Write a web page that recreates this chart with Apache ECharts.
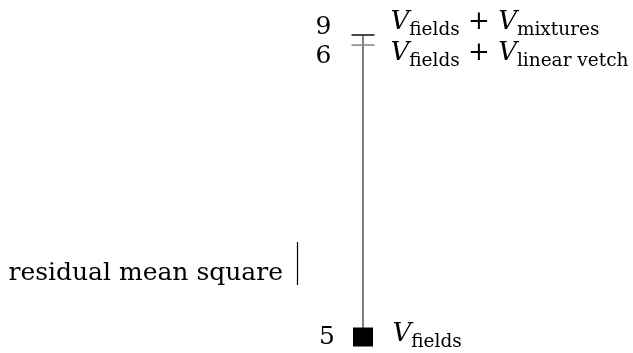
<!DOCTYPE html>
<html>
<head>
<meta charset="utf-8">
<script src="https://cdn.jsdelivr.net/npm/echarts@6/dist/echarts.min.js"></script>
<style>
  html, body { margin: 0; padding: 0; background: #fff; }
  #chart { width: 633px; height: 353px; }
</style>
</head>
<body>
<div id="chart"></div>
<script>
// Models compared on a residual-mean-square scale (arbitrary units, top = larger)
const modelIds = ['9', '6', '5'];
const modelTerms = [
  ['fields', 'mixtures'],
  ['fields', 'linear vetch'],
  ['fields']
];
const rmsScale = [30, 29, 0];
const axisLabel = 'residual mean square';

const FONT = 'DejaVu Serif';
const SIZE = 25;
const TERM = 26;
const SUB = 18.5;

function termLabel(terms) {
  return terms.map(t => '{v|V}{s|' + t + '}').join('{p| + }');
}

const rich = {
  v: { fontFamily: FONT, fontSize: TERM, fontStyle: 'italic', color: '#000', lineHeight: 28, verticalAlign: 'top' },
  p: { fontFamily: FONT, fontSize: TERM, color: '#000', lineHeight: 28, verticalAlign: 'top' },
  s: { fontFamily: FONT, fontSize: SUB, color: '#000', lineHeight: 20, verticalAlign: 'top', padding: [12, 0, 0, 0] }
};

// vertical offsets of the left/right labels relative to each mark
const leftOffsetY = [-8, 11, 0];
const rightOffsetY = [-12, 9, -2];

const lo = Math.min(...rmsScale), hi = Math.max(...rmsScale);

const tickData = [], boxData = [];
modelIds.forEach((id, i) => {
  const item = { value: [0, rmsScale[i]], name: id, terms: modelTerms[i], idx: i };
  if (modelTerms[i].length > 1) {
    item.itemStyle = { color: i === 0 ? '#1a1a1a' : '#8a8a8a', opacity: 1 };
    tickData.push(item);
  } else {
    boxData.push(item);
  }
});

const textLabel = {
  fontFamily: FONT, fontSize: SIZE, color: '#000'
};

const chart = echarts.init(document.getElementById('chart'));
const option = {
  animation: false,
  grid: { left: 93, right: 0, top: 35, bottom: 16, containLabel: false },
  xAxis: { type: 'value', min: -1, max: 1, show: false },
  yAxis: { type: 'value', min: lo, max: hi, show: false },
  graphic: [
    {
      type: 'text',
      x: 283,
      y: 273,
      style: { text: axisLabel, font: SIZE + 'px "' + FONT + '"', fill: '#000', align: 'right', verticalAlign: 'middle' }
    },
    {
      type: 'line',
      shape: { x1: 297.5, y1: 242, x2: 297.5, y2: 285 },
      style: { stroke: '#000', lineWidth: 1.2 }
    }
  ],
  series: [
    {
      type: 'line',
      data: [[0, lo], [0, hi]],
      symbol: 'none',
      lineStyle: { color: '#808080', width: 2 },
      silent: true,
      z: 1
    },
    {
      type: 'scatter',
      data: tickData,
      symbol: 'rect',
      symbolSize: [23, 1.6],
      itemStyle: { opacity: 1 },
      z: 2,
      label: Object.assign({
        show: true,
        position: 'left',
        distance: 20,
        formatter: p => p.name
      }, textLabel),
      labelLayout: p => ({ dy: leftOffsetY[tickData[p.dataIndex].idx] })
    },
    {
      type: 'scatter',
      data: tickData.map(d => Object.assign({}, d, { itemStyle: { color: 'rgba(0,0,0,0)' } })),
      symbol: 'rect',
      symbolSize: 1,
      z: 2,
      label: {
        show: true,
        position: 'right',
        distance: 27,
        color: '#000',
        opacity: 1,
        formatter: p => termLabel(p.data.terms),
        rich: rich
      },
      labelLayout: p => ({ dy: rightOffsetY[tickData[p.dataIndex].idx] })
    },
    {
      type: 'scatter',
      data: boxData,
      symbol: 'rect',
      symbolSize: [20, 19],
      itemStyle: { color: '#000', opacity: 1 },
      z: 3,
      label: Object.assign({
        show: true,
        position: 'left',
        distance: 18,
        formatter: p => p.name
      }, textLabel)
    },
    {
      type: 'scatter',
      data: boxData.map(d => Object.assign({}, d, { itemStyle: { color: 'rgba(0,0,0,0)' } })),
      symbol: 'rect',
      symbolSize: 1,
      z: 3,
      label: {
        show: true,
        position: 'right',
        distance: 29,
        color: '#000',
        opacity: 1,
        formatter: p => termLabel(p.data.terms),
        rich: rich
      },
      labelLayout: p => ({ dy: rightOffsetY[boxData[p.dataIndex].idx] })
    }
  ]
};
chart.setOption(option);
</script>
</body>
</html>
